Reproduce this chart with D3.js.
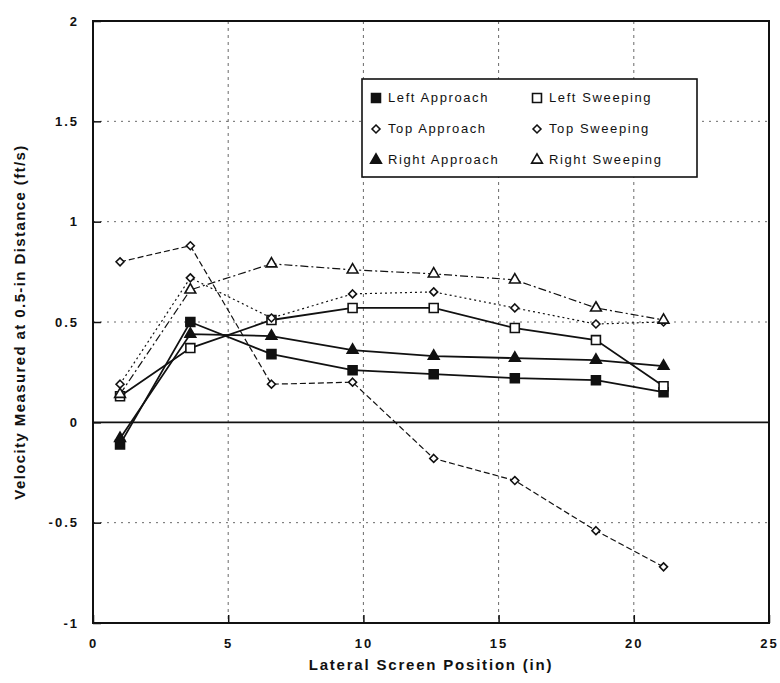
<!DOCTYPE html>
<html>
<head>
<meta charset="utf-8">
<script src="https://cdn.jsdelivr.net/npm/d3@7"></script>
<style>
  body { margin: 0; background: #fff; }
  text { font-family: Arial, "Liberation Sans", sans-serif; fill: #111; }
</style>
</head>
<body>
<svg width="780" height="683"></svg>
<script>
// lateral positions (in)
var positions = [1, 3.6, 6.6, 9.6, 12.6, 15.6, 18.6, 21.1];

var leftApproach  = [-0.11, 0.50, 0.34, 0.26, 0.24, 0.22, 0.21, 0.15];
var leftSweeping  = [0.13, 0.37, 0.51, 0.57, 0.57, 0.47, 0.41, 0.18];
var topApproach   = [0.19, 0.72, 0.52, 0.64, 0.65, 0.57, 0.49, 0.50];
var topSweeping   = [0.80, 0.88, 0.19, 0.20, -0.18, -0.29, -0.54, -0.72];
var rightApproach = [-0.08, 0.44, 0.43, 0.36, 0.33, 0.32, 0.31, 0.28];
var rightSweeping = [0.14, 0.66, 0.79, 0.76, 0.74, 0.71, 0.57, 0.51];

var xTicks = [0, 5, 10, 15, 20, 25];
var yTicks = [-1, -0.5, 0, 0.5, 1, 1.5, 2];

var series = [
  {name: "Left Approach",  values: leftApproach,  marker: "square",   fill: true,  dash: null},
  {name: "Left Sweeping",  values: leftSweeping,  marker: "square",   fill: false, dash: null},
  {name: "Top Approach",   values: topApproach,   marker: "diamond",  fill: false, dash: "2,3"},
  {name: "Top Sweeping",   values: topSweeping,   marker: "diamond",  fill: false, dash: "6,3"},
  {name: "Right Approach", values: rightApproach, marker: "triangle", fill: true,  dash: null},
  {name: "Right Sweeping", values: rightSweeping, marker: "triangle", fill: false, dash: "8,3,2,3"}
];

var svg = d3.select("svg");

var margins = {left: 93, right: 11, top: 21, bottom: 60};
var width = 780 - margins.left - margins.right;
var height = 683 - margins.top - margins.bottom;

var xScale = d3.scaleLinear().domain([0, 25]).range([0, width]);
var yScale = d3.scaleLinear().domain([-1, 2]).range([height, 0]);

var g = svg.append("g")
           .attr("transform", "translate(" + margins.left + "," + margins.top + ")");

// grid lines
g.selectAll(".vgrid")
 .data(xTicks.filter(function(d) { return d > 0 && d < 25; }))
 .enter()
 .append("line")
 .attr("x1", function(d) { return xScale(d); })
 .attr("x2", function(d) { return xScale(d); })
 .attr("y1", 0)
 .attr("y2", height)
 .attr("stroke", "#444")
 .attr("stroke-width", 0.8)
 .attr("stroke-dasharray", "3,4");

g.selectAll(".hgrid")
 .data(yTicks.filter(function(d) { return d > -1 && d < 2 && d != 0; }))
 .enter()
 .append("line")
 .attr("x1", 0)
 .attr("x2", width)
 .attr("y1", function(d) { return yScale(d); })
 .attr("y2", function(d) { return yScale(d); })
 .attr("stroke", "#444")
 .attr("stroke-width", 0.8)
 .attr("stroke-dasharray", "2,5");

// zero line
g.append("line")
 .attr("x1", 0).attr("x2", width)
 .attr("y1", yScale(0)).attr("y2", yScale(0))
 .attr("stroke", "#111")
 .attr("stroke-width", 1.6);

// frame
g.append("rect")
 .attr("width", width)
 .attr("height", height)
 .attr("fill", "none")
 .attr("stroke", "#111")
 .attr("stroke-width", 2);

// axes
var xAxis = d3.axisBottom(xScale).tickValues(xTicks).tickSize(-8).tickPadding(16);
var yAxis = d3.axisLeft(yScale).tickValues(yTicks).tickSize(-8).tickPadding(14)
              .tickFormat(function(d) { return String(d); });

var gx = g.append("g").attr("transform", "translate(0," + height + ")").call(xAxis);
var gy = g.append("g").call(yAxis);
[gx, gy].forEach(function(a) {
  a.select(".domain").remove();
  a.selectAll("line").attr("stroke", "#111").attr("stroke-width", 1.5);
  a.selectAll("text")
   .style("font-size", "13px")
   .style("font-weight", "bold")
   .style("letter-spacing", "2px")
   .attr("fill", "#111");
});

// lines
var line = d3.line()
             .x(function(d, i) { return xScale(positions[i]); })
             .y(function(d) { return yScale(d); });

g.selectAll(".series")
 .data(series)
 .enter()
 .append("path")
 .attr("d", function(d) { return line(d.values); })
 .attr("fill", "none")
 .attr("stroke", "#111")
 .attr("stroke-width", function(d) { return d.dash ? 1.2 : 1.8; })
 .attr("stroke-dasharray", function(d) { return d.dash; });

var symbolType = {square: d3.symbolSquare, diamond: d3.symbolDiamond2, triangle: d3.symbolTriangle};
var symbolSize = {square: 80, diamond: 40, triangle: 50};

function drawMarker(sel, s) {
  sel.attr("d", d3.symbol().type(symbolType[s.marker]).size(symbolSize[s.marker]))
     .attr("fill", s.fill ? "#111" : "#fff")
     .attr("stroke", "#111")
     .attr("stroke-width", 1.6);
}

series.forEach(function(s) {
  g.selectAll(null)
   .data(s.values)
   .enter()
   .append("path")
   .attr("transform", function(d, i) {
     return "translate(" + xScale(positions[i]) + "," + yScale(d) + ")";
   })
   .call(drawMarker, s);
});

// legend
var legend = svg.append("g").attr("transform", "translate(362,79)");
legend.append("rect")
      .attr("width", 335)
      .attr("height", 98)
      .attr("fill", "#fff")
      .attr("stroke", "#111")
      .attr("stroke-width", 1.6);

series.forEach(function(s, i) {
  var col = i % 2;
  var row = Math.floor(i / 2);
  var item = legend.append("g")
                   .attr("transform", "translate(" + (14 + col * 161) + "," + (18 + row * 31) + ")");
  item.append("path")
      .attr("transform", "translate(0,1)")
      .call(drawMarker, s);
  item.append("text")
      .attr("x", 12)
      .attr("y", 0)
      .attr("dy", "0.35em")
      .style("font-size", "13px")
      .style("letter-spacing", "1.6px")
      .text(s.name);
});

// axis titles
svg.append("text")
   .attr("x", margins.left + width / 2)
   .attr("y", 670)
   .attr("text-anchor", "middle")
   .style("font-size", "15px")
   .style("font-weight", "bold")
   .style("letter-spacing", "1.8px")
   .text("Lateral Screen Position (in)");

svg.append("text")
   .attr("transform", "translate(25," + (margins.top + height / 2) + ") rotate(-90)")
   .attr("text-anchor", "middle")
   .style("font-size", "15px")
   .style("font-weight", "bold")
   .style("letter-spacing", "1.4px")
   .text("Velocity Measured at 0.5-in Distance (ft/s)");
</script>
</body>
</html>
